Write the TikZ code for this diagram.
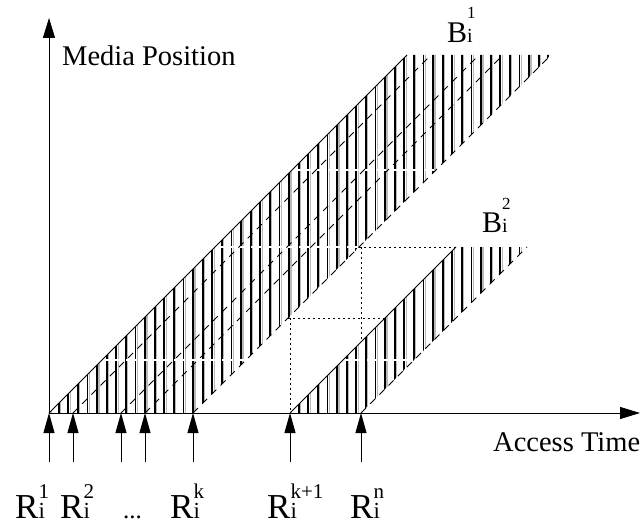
\documentclass[tikz,border=0pt]{standalone}
\usepackage{fontspec}
\setmainfont{Liberation Serif}
\usetikzlibrary{arrows.meta}
\newcommand{\RLab}[1]{{\fontsize{35}{40}\selectfont R}\rlap{\raisebox{20pt}{\fontsize{21}{24}\selectfont #1}}{\fontsize{23}{26}\selectfont i}}
\newcommand{\BLab}[1]{{\fontsize{30}{34}\selectfont B}\rlap{\raisebox{24pt}{\fontsize{17}{20}\selectfont #1}}{\fontsize{20}{24}\selectfont i}}
\begin{document}
\begin{tikzpicture}[x=1pt,y=-1pt,
  axis/.style={line width=1pt,-{Triangle[length=20pt,width=12pt]}},
  req/.style={line width=0.9pt,-{Triangle[length=20pt,width=11pt]}},
  hatch/.style={line width=1.8pt},
  hatchshade/.style={line width=1.2pt,gray!55},
  edge/.style={line width=1pt},
  dashedge/.style={line width=1pt,dash pattern=on 7pt off 6pt},
  dotline/.style={line width=0.9pt,dash pattern=on 1.5pt off 3.5pt},
  whiteline/.style={white,line width=1.2pt,dash pattern=on 10pt off 2pt},
  lbl/.style={inner sep=0pt,anchor=base west}]
\useasboundingbox (0,0) rectangle (641,527);
\fill[white] (0,0) rectangle (641,527);
% axes coordinates
\coordinate (O) at (49,413);
\coordinate (Ytop) at (49,18);
\coordinate (Xend) at (640,413);
% request points
\coordinate (r1) at (49,413);  \coordinate (s1) at (49,462);
\coordinate (r2) at (73,413);  \coordinate (s2) at (73,462);
\coordinate (r3) at (121,413); \coordinate (s3) at (121,462);
\coordinate (r4) at (145,413); \coordinate (s4) at (145,462);
\coordinate (r5) at (193,413); \coordinate (s5) at (193,462);
\coordinate (r6) at (290,413); \coordinate (s6) at (290,462);
\coordinate (r7) at (361,413); \coordinate (s7) at (361,462);
% band corners
\coordinate (b1c) at (551,55);
\coordinate (b1d) at (407,55);
\coordinate (b2c) at (527,247);
\coordinate (b2d) at (456,247);
% hatching band 1
\begin{scope}
\clip (r1) -- (r5) -- (b1c) -- (b1d) -- cycle;
\foreach \k in {0,...,54} {
  \draw[hatchshade] ({49+9.6*\k+2.0},40) -- ++(0,380);
  \draw[hatch] ({49+9.6*\k},40) -- ++(0,380);
}
\end{scope}
% hatching band 2
\begin{scope}
\clip (r6) -- (r7) -- (b2c) -- (b2d) -- cycle;
\foreach \k in {24,...,51} {
  \draw[hatchshade] ({49+9.6*\k+2.0},230) -- ++(0,190);
  \draw[hatch] ({49+9.6*\k},230) -- ++(0,190);
}
\end{scope}
% white grid lines over hatching
\coordinate (w1a) at (102,360); \coordinate (w1b) at (246,360);
\coordinate (w2a) at (343,360); \coordinate (w2b) at (414,360);
\coordinate (w3a) at (215,247); \coordinate (w3b) at (359,247);
\coordinate (w4a) at (292,170); \coordinate (w4b) at (436,170);
\draw[whiteline] (w1a) -- (w1b);
\draw[whiteline] (w2a) -- (w2b);
\draw[whiteline] (w3a) -- (w3b);
\draw[whiteline] (w4a) -- (w4b);
% band edges
\draw[edge] (r1) -- (b1d);
\draw[dashedge] (r5) -- (b1c);
\coordinate (d2) at (431,55);
\coordinate (d3) at (479,55);
\coordinate (d4) at (503,55);
\draw[dashedge] (r2) -- (d2);
\draw[dashedge] (r3) -- (d3);
\draw[dashedge] (r4) -- (d4);
\draw[edge] (r6) -- (b2d);
\draw[dashedge] (r7) -- (b2c);
% dotted construction lines
\coordinate (p1) at (361,247); \coordinate (p2) at (361,342);
\coordinate (q1) at (288,318); \coordinate (q2) at (385,318);
\coordinate (q3) at (290,318);
\draw[dotline] (w3b) -- (b2d);
\draw[dotline] (p1) -- (p2);
\draw[dotline] (q1) -- (q2);
\draw[dotline] (q3) -- (r6);
% axes
\draw[axis] (O) -- (Ytop);
\draw[axis] (O) -- (Xend);
% request arrows
\foreach \i in {1,...,7} { \draw[req] (s\i) -- (r\i); }
% texts
\node[lbl,font=\fontsize{28.5}{32}\selectfont] (ylab) at (62,66) {Media Position};
\node[lbl,font=\fontsize{28.5}{32}\selectfont] (xlab) at (493,451) {Access Time};
\node[lbl] (B1) at (447,43) {\BLab{1}};
\node[lbl] (B2) at (482,233) {\BLab{2}};
\node[lbl] (R1) at (15,518) {\RLab{1}};
\node[lbl] (R2) at (60,518) {\RLab{2}};
\node[lbl,font=\fontsize{25}{28}\selectfont] (dots) at (123,518) {...};
\node[lbl] (Rk) at (170,518) {\RLab{k}};
\node[lbl] (Rk1) at (267,518) {\RLab{k+1}};
\node[lbl] (Rn) at (350,518) {\RLab{n}};
\end{tikzpicture}
\end{document}
